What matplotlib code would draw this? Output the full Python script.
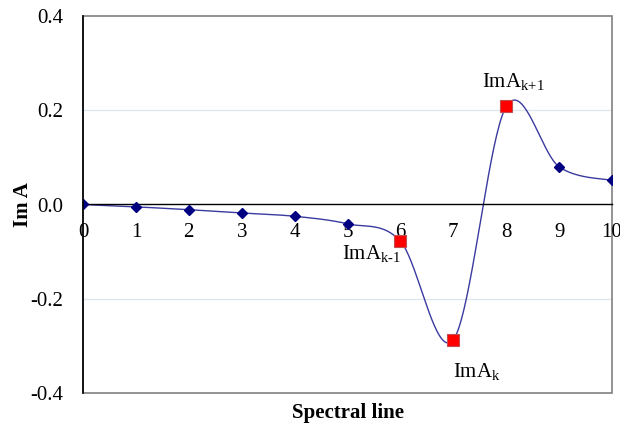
import numpy as np
import matplotlib
matplotlib.use('Agg')
import matplotlib.pyplot as plt
from matplotlib.ticker import FormatStrFormatter
from matplotlib.patches import Rectangle

plt.rcParams['font.family'] = ['Liberation Serif', 'DejaVu Serif']
plt.rcParams['mathtext.fontset'] = 'custom'
plt.rcParams['mathtext.rm'] = 'Liberation Serif'
plt.rcParams['axes.unicode_minus'] = False

# значения
lines = np.arange(0, 11)
im_a = np.array([0.0, -0.005, -0.011, -0.018, -0.025, -0.041,
                 -0.078, -0.287, 0.208, 0.080, 0.051])
key_idx = [6, 7, 8]
key_labels = [r'ImA$_{\mathrm{k\text{-}1}}$', r'ImA$_{\mathrm{k}}$', r'ImA$_{\mathrm{k{+}1}}$']
label_pos = [(4.90, -0.106), (6.99, -0.356), (7.54, 0.260)]


def smooth_curve(x, y, n=40):
    # сглаживание как в Excel (кубические Безье, Catmull-Rom)
    P = np.column_stack([x, y]).astype(float)
    Pext = np.vstack([P[0], P, P[-1]])
    t = np.linspace(0, 1, n)[:, None]
    out = []
    for i in range(len(P) - 1):
        p0, p1 = P[i], P[i + 1]
        b1 = p0 + (Pext[i + 2] - Pext[i]) / 6
        b2 = p1 - (Pext[i + 3] - Pext[i + 1]) / 6
        seg = ((1 - t) ** 3) * p0 + 3 * ((1 - t) ** 2) * t * b1 \
            + 3 * (1 - t) * t ** 2 * b2 + t ** 3 * p1
        out.append(seg)
    c = np.vstack(out)
    return c[:, 0], c[:, 1]


fig = plt.figure(figsize=(6.2, 4.23), dpi=100)
ax = fig.add_axes([83 / 620, 1 - 393 / 423, 529 / 620, 377 / 423])

ax.set_xlim(0, 10)
ax.set_ylim(-0.4, 0.4)

for g in (0.2, -0.2):
    ax.axhline(g, color='#dce4ee', lw=0.9, zorder=0)

cx, cy = smooth_curve(lines, im_a)
ax.plot(cx, cy, color='#3a3aa0', lw=1.0, zorder=2)
ax.plot(lines, im_a, ls='none', marker='D', ms=5.5, color='#000080', zorder=3)
ax.plot(lines[key_idx], im_a[key_idx], ls='none', marker='s', ms=9,
        mfc='#ff0000', mec='#c05050', mew=0.8, zorder=4)

for lab, (lx, ly) in zip(key_labels, label_pos):
    ax.text(lx, ly, lab, fontsize=15, ha='left', va='center')

# ось X проходит через ноль
for s in ('top', 'right', 'left'):
    ax.spines[s].set_visible(False)
ax.spines['bottom'].set_position(('data', 0))
ax.spines['bottom'].set_color('black')
ax.spines['bottom'].set_linewidth(1.0)
ax.add_patch(Rectangle((0, 0), 1, 1, transform=ax.transAxes, fill=False,
                       edgecolor='#808080', lw=1.2, zorder=1, clip_on=False))
ax.plot([0, 0], [0, 1], transform=ax.transAxes, color='black', lw=1.2,
        clip_on=False, zorder=5)

ax.set_xticks(lines)
ax.set_yticks([-0.4, -0.2, 0.0, 0.2, 0.4])
ax.yaxis.set_major_formatter(FormatStrFormatter('%.1f'))
ax.tick_params(axis='x', length=0, pad=13, labelsize=15)
ax.tick_params(axis='y', length=0, pad=14, labelsize=15)

ax.set_xlabel('Spectral line', fontsize=15, fontweight='bold', labelpad=0)
ax.xaxis.set_label_coords(0.5, -0.027)
ax.set_ylabel('Im A', fontsize=15, fontweight='bold')
ax.yaxis.set_label_coords(-0.094, 0.5)

fig.savefig('out.png', dpi=100)
